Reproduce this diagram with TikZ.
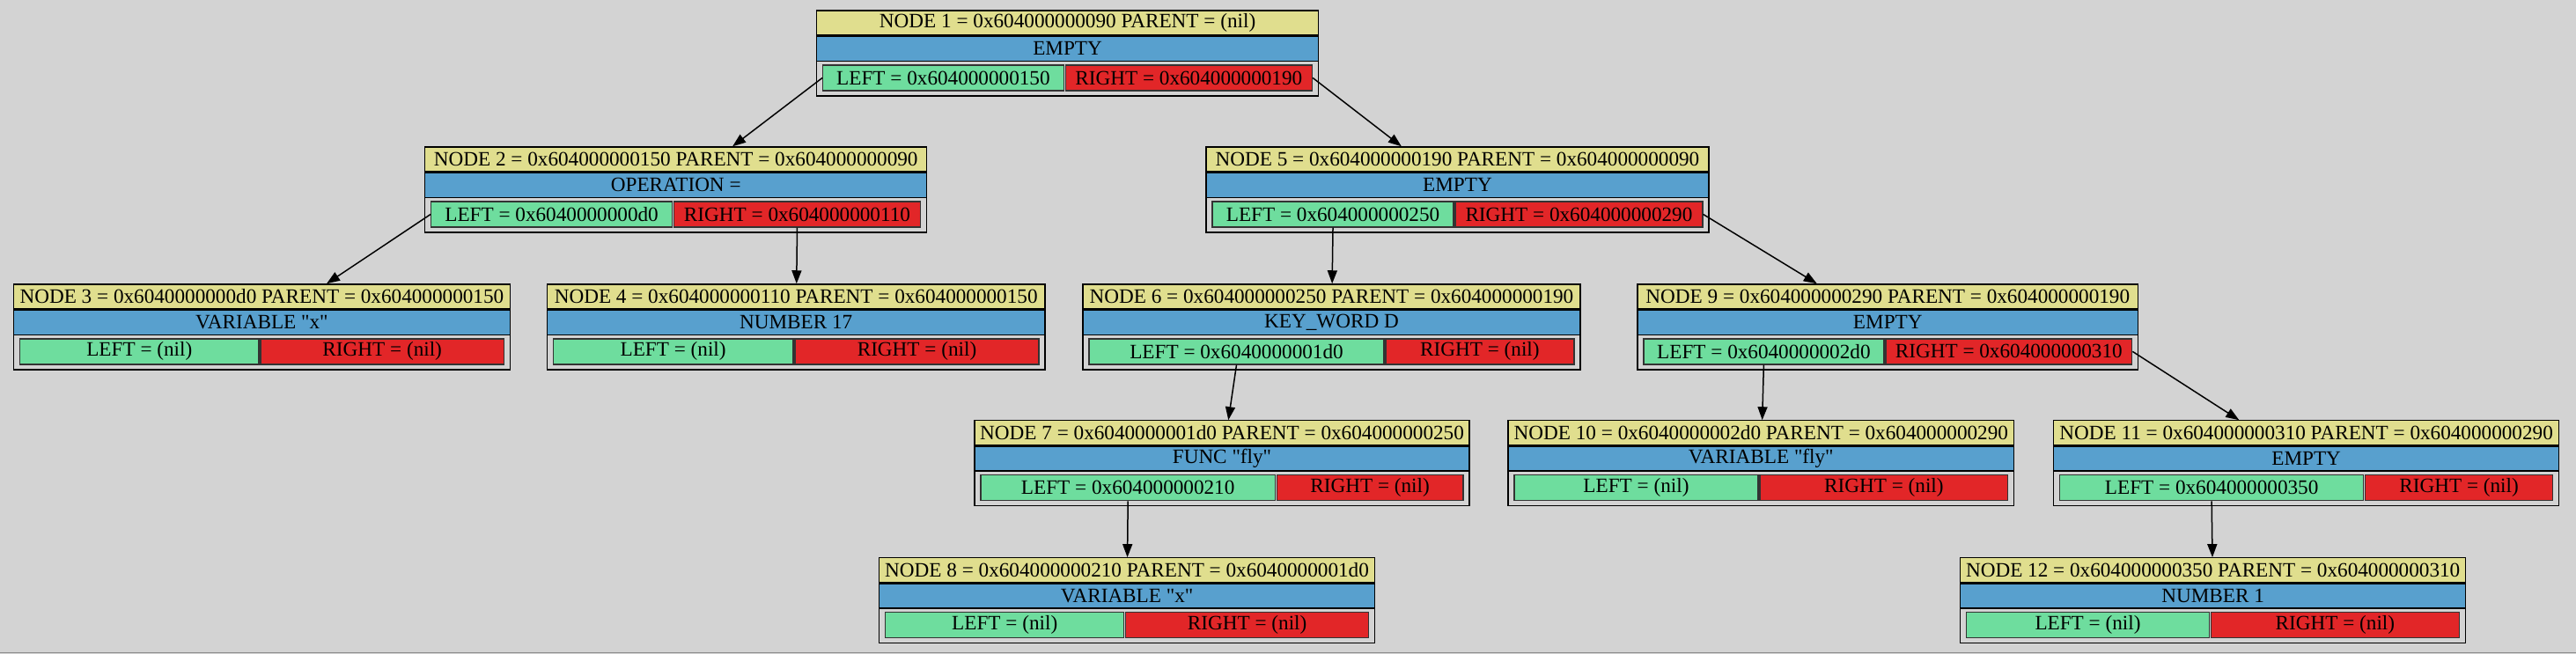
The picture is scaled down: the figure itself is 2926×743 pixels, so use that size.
\documentclass[tikz,border=0pt]{standalone}
\usepackage{fontspec}
\setmainfont{Liberation Serif}[Ligatures=TeXOff]
\usetikzlibrary{arrows.meta}

\definecolor{bgcol}{RGB}{211,211,211}
\definecolor{headcol}{RGB}{224,222,142}
\definecolor{typecol}{RGB}{88,160,206}
\definecolor{leftcol}{RGB}{110,221,158}
\definecolor{rightcol}{RGB}{226,38,40}

\newcommand{\px}{0.5pt}
\tikzset{
    row/.style={draw=black, line width=0.65pt, inner sep=0pt, minimum height=28*\px, anchor=north},
    headrow/.style={row, fill=headcol},
    typerow/.style={row, fill=typecol},
    cell/.style={draw=black!80, line width=0.65pt, inner sep=0pt, minimum height=29*\px},
    leftcell/.style={cell, fill=leftcol, anchor=north west},
    rightcell/.style={cell, fill=rightcol, anchor=north east},
    recbox/.style={draw=black, line width=0.65pt, inner sep=0pt, minimum height=97*\px},
    edge/.style={draw=black, line width=0.75pt, -{Triangle[length=7.5pt,width=5.5pt]}},
}

% #1 name, #2 x, #3 top, #4 width, #5 split, #6 header, #7 type, #8 left, #9 right
\newcommand{\recnode}[9]{
    \node[recbox, minimum width=#4*\px] (#1) at (#2,{#3+48.5}) {};
    \node[headrow, minimum width=#4*\px] (#1h) at (#1.north) {#6};
    \node[typerow, minimum width=#4*\px] (#1t) at (#1h.south) {#7};
    \node[leftcell, minimum width={(#5*#4-8)*\px}] (#1l) at ([xshift=7*\px,yshift=-62*\px]#1.north west) {#8};
    \node[rightcell, minimum width={((1-#5)*#4-8)*\px}] (#1r) at ([xshift=-7*\px,yshift=-62*\px]#1.north east) {#9};
}

\begin{document}
\begin{tikzpicture}[x=0.5pt, y=-0.5pt, font=\fontsize{11.6}{13}\selectfont]
\fill[bgcol] (0,0) rectangle (2926,743);
\draw[black!45, line width=0.5pt] (0,741.5) -- (2926,741.5);

% row 1
\recnode{n1}{1212.5}{12}{570}{0.494}{NODE 1 = 0x604000000090 PARENT = (nil)}{EMPTY}{LEFT = 0x604000000150}{RIGHT = 0x604000000190}
% row 2
\recnode{n2}{767.5}{167}{570}{0.494}{NODE 2 = 0x604000000150 PARENT = 0x604000000090}{OPERATION =}{LEFT = 0x6040000000d0}{RIGHT = 0x604000000110}
\recnode{n5}{1655.5}{167}{571}{0.494}{NODE 5 = 0x604000000190 PARENT = 0x604000000090}{EMPTY}{LEFT = 0x604000000250}{RIGHT = 0x604000000290}
% row 3
\recnode{n3}{297}{323}{564}{0.496}{NODE 3 = 0x6040000000d0 PARENT = 0x604000000150}{VARIABLE "x"}{LEFT = (nil)}{RIGHT = (nil)}
\recnode{n4}{904}{323}{566}{0.496}{NODE 4 = 0x604000000110 PARENT = 0x604000000150}{NUMBER 17}{LEFT = (nil)}{RIGHT = (nil)}
\recnode{n6}{1512.5}{323}{565}{0.607}{NODE 6 = 0x604000000250 PARENT = 0x604000000190}{KEY\_WORD D}{LEFT = 0x6040000001d0}{RIGHT = (nil)}
\recnode{n9}{2144.5}{323}{569}{0.494}{NODE 9 = 0x604000000290 PARENT = 0x604000000190}{EMPTY}{LEFT = 0x6040000002d0}{RIGHT = 0x604000000310}
% row 4
\recnode{n7}{1388}{478}{562}{0.609}{NODE 7 = 0x6040000001d0 PARENT = 0x604000000250}{FUNC "fly"}{LEFT = 0x604000000210}{RIGHT = (nil)}
\recnode{n10}{2000.5}{478}{575}{0.496}{NODE 10 = 0x6040000002d0 PARENT = 0x604000000290}{VARIABLE "fly"}{LEFT = (nil)}{RIGHT = (nil)}
\recnode{n11}{2620}{478}{574}{0.615}{NODE 11 = 0x604000000310 PARENT = 0x604000000290}{EMPTY}{LEFT = 0x604000000350}{RIGHT = (nil)}
% row 5
\recnode{n8}{1280}{634}{563}{0.496}{NODE 8 = 0x604000000210 PARENT = 0x6040000001d0}{VARIABLE "x"}{LEFT = (nil)}{RIGHT = (nil)}
\recnode{n12}{2514}{634}{574}{0.494}{NODE 12 = 0x604000000350 PARENT = 0x604000000310}{NUMBER 1}{LEFT = (nil)}{RIGHT = (nil)}

% edges
\draw[edge] (n1l.west) -- (n2);
\draw[edge] (n1r.east) -- (n5);
\draw[edge] (n2l.west) -- (n3);
\draw[edge] (n2r.south) -- (n4);
\draw[edge] (n5l.south) -- (n6);
\draw[edge] (n5r.east) -- (n9);
\draw[edge] (n6l.south) -- (n7);
\draw[edge] (n7l.south) -- (n8);
\draw[edge] (n9l.south) -- (n10);
\draw[edge] (n9r.east) -- (n11);
\draw[edge] (n11l.south) -- (n12);
\end{tikzpicture}
\end{document}
